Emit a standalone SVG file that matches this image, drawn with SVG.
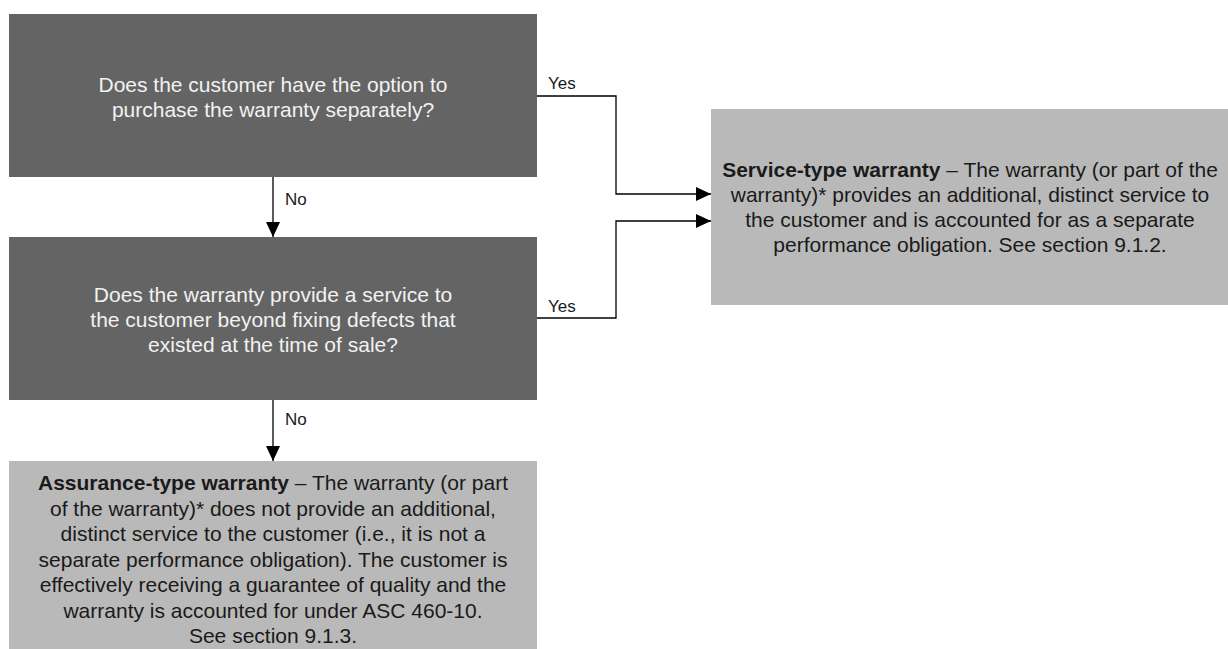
<svg xmlns="http://www.w3.org/2000/svg" width="1228" height="649" viewBox="0 0 1228 649">
<defs>
<style>
.dark{fill:#646464}
.light{fill:#b9b9b9}
.t{font-family:"Liberation Sans",Arial,sans-serif;font-size:21px;text-anchor:middle}
.tw{fill:#f2f2f2}
.tb{fill:#1a1a1a}
.b{font-weight:bold}
.lbl{font-family:"Liberation Sans",Arial,sans-serif;font-size:17px;fill:#1a1a1a}
.c{fill:none;stroke:#000;stroke-width:1.3}
</style>
<marker id="ah" viewBox="0 0 15 14" refX="15" refY="7" markerWidth="15" markerHeight="14" markerUnits="userSpaceOnUse" orient="auto">
<path d="M0,0 L15,7 L0,14 Z" fill="#000"/>
</marker>
</defs>
<rect width="1228" height="649" fill="#fff"/>
<g id="q1">
<rect class="dark" x="9" y="14" width="528" height="163"/>
<text class="t tw" x="273" y="92">Does the customer have the option to</text>
<text class="t tw" x="273" y="117">purchase the warranty separately?</text>
</g>
<g id="q2">
<rect class="dark" x="9" y="237" width="528" height="163"/>
<text class="t tw" x="273" y="302">Does the warranty provide a service to</text>
<text class="t tw" x="273" y="327">the customer beyond fixing defects that</text>
<text class="t tw" x="273" y="352">existed at the time of sale?</text>
</g>
<g id="service">
<rect class="light" x="711" y="109" width="517" height="196"/>
<text class="t tb" x="970" y="177"><tspan class="b">Service-type warranty</tspan> – The warranty (or part of the</text>
<text class="t tb" x="970" y="202">warranty)* provides an additional, distinct service to</text>
<text class="t tb" x="970" y="227">the customer and is accounted for as a separate</text>
<text class="t tb" x="970" y="252">performance obligation. See section 9.1.2.</text>
</g>
<g id="assurance">
<rect class="light" x="9" y="461" width="528" height="188"/>
<text class="t tb" x="273" y="490"><tspan class="b">Assurance-type warranty</tspan> – The warranty (or part</text>
<text class="t tb" x="273" y="515.5">of the warranty)* does not provide an additional,</text>
<text class="t tb" x="273" y="541">distinct service to the customer (i.e., it is not a</text>
<text class="t tb" x="273" y="566.5">separate performance obligation). The customer is</text>
<text class="t tb" x="273" y="592">effectively receiving a guarantee of quality and the</text>
<text class="t tb" x="273" y="617.5">warranty is accounted for under ASC 460-10.</text>
<text class="t tb" x="273" y="643">See section 9.1.3.</text>
</g>
<g id="connectors">
<path class="c" d="M273,177 V237" marker-end="url(#ah)"/>
<path class="c" d="M273,400 V461" marker-end="url(#ah)"/>
<path class="c" d="M537,96 H616 V194 H711" marker-end="url(#ah)"/>
<path class="c" d="M537,318 H616 V221 H711" marker-end="url(#ah)"/>
<text class="lbl" x="285" y="205">No</text>
<text class="lbl" x="285" y="425">No</text>
<text class="lbl" x="548" y="89">Yes</text>
<text class="lbl" x="548" y="312">Yes</text>
</g>
</svg>
